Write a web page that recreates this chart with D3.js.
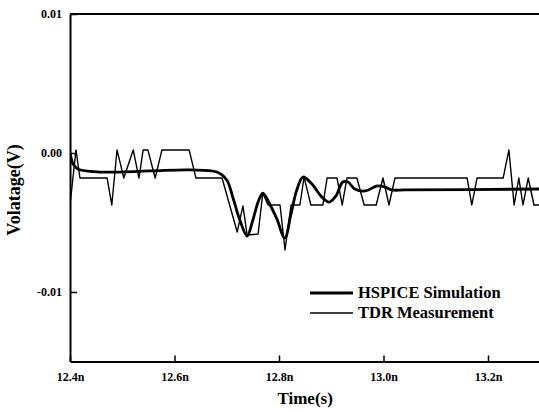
<!DOCTYPE html>
<html>
<head>
<meta charset="utf-8">
<script src="https://cdn.jsdelivr.net/npm/d3@7"></script>
<style>
  body { margin: 0; background: #fff; }
  svg { display: block; }
  text { font-family: "Liberation Serif", "Times New Roman", serif; font-weight: bold; fill: #000; }
</style>
</head>
<body>
<svg id="chart" width="539" height="412"></svg>
<script>
// time in ns, voltage in V
const hspiceTime = [12.400, 12.406, 12.415, 12.457, 12.553, 12.630, 12.681, 12.700, 12.712, 12.725,
  12.739, 12.750, 12.760, 12.769, 12.783, 12.796, 12.811, 12.823, 12.834, 12.846,
  12.863, 12.882, 12.896, 12.909, 12.922, 12.932, 12.945, 12.965, 12.988, 13.003,
  13.016, 13.041, 13.300];
const hspiceVolt = [0.0000, -0.00079, -0.00115, -0.00137, -0.00129, -0.00122, -0.00137, -0.00194, -0.00324, -0.00482,
  -0.00597, -0.00482, -0.00353, -0.00288, -0.00374, -0.00475, -0.00612, -0.00439, -0.00266, -0.00173,
  -0.00223, -0.00317, -0.00353, -0.00309, -0.00209, -0.00209, -0.00259, -0.00273, -0.00237, -0.00245,
  -0.00266, -0.00266, -0.00259];

const tdrTime = [12.400, 12.4115, 12.419, 12.471, 12.480, 12.490, 12.503, 12.521, 12.532, 12.540,
  12.549, 12.563, 12.576, 12.628, 12.641, 12.691, 12.720, 12.731, 12.739, 12.760,
  12.769, 12.779, 12.802, 12.8115, 12.823, 12.840, 12.848, 12.861, 12.884, 12.892,
  12.911, 12.921, 12.930, 12.949, 12.963, 12.986, 12.999, 13.0105, 13.022, 13.160,
  13.169, 13.179, 13.229, 13.240, 13.250, 13.259, 13.267, 13.277, 13.288, 13.300];
const tdrVolt = [-0.00374, 0.00022, -0.00180, -0.00180, -0.00374, 0.00022, -0.00180, 0.00022, -0.00180, 0.00022,
  0.00022, -0.00180, 0.00022, 0.00022, -0.00180, -0.00180, -0.00568, -0.00381, -0.00590, -0.00583,
  -0.00288, -0.00374, -0.00374, -0.00698, -0.00374, -0.00374, -0.00173, -0.00374, -0.00374, -0.00180,
  -0.00180, -0.00374, -0.00180, -0.00180, -0.00374, -0.00374, -0.00180, -0.00374, -0.00180, -0.00180,
  -0.00374, -0.00180, -0.00180, 0.00022, -0.00374, -0.00180, -0.00374, -0.00180, -0.00374, -0.00374];

const xTicks = [12.4, 12.6, 12.8, 13.0, 13.2];
const xTickLabels = ["12.4n", "12.6n", "12.8n", "13.0n", "13.2n"];
const yTicks = [0.01, 0.00, -0.01];
const yTickLabels = ["0.01", "0.00", "-0.01"];
const seriesNames = ["HSPICE Simulation", "TDR Measurement"];

const mLeft = 70, mTop = 14, mRight = 540.25, mBottom = 361.5;

const svg = d3.select("#chart");

const x = d3.scaleLinear().domain([12.4, 13.3]).range([mLeft, mRight]);
const y = d3.scaleLinear().domain([-0.015, 0.01]).range([mBottom, mTop]);

svg.append("clipPath").attr("id", "clip")
  .append("rect").attr("x", mLeft).attr("y", mTop).attr("width", mRight - mLeft).attr("height", mBottom - mTop);

const hspice = hspiceTime.map((t, i) => ({t: t, v: hspiceVolt[i]}));
const tdr = tdrTime.map((t, i) => ({t: t, v: tdrVolt[i]}));

const line = d3.line().x(d => x(d.t)).y(d => y(d.v));
const smooth = d3.line().x(d => x(d.t)).y(d => y(d.v)).curve(d3.curveCatmullRom.alpha(0.5));

const plot = svg.append("g").attr("clip-path", "url(#clip)");

plot.append("path")
  .datum(tdr)
  .attr("d", line)
  .attr("fill", "none")
  .attr("stroke", "#000")
  .attr("stroke-width", 1.4)
  .attr("stroke-linejoin", "round");

plot.append("path")
  .datum(hspice)
  .attr("d", smooth)
  .attr("fill", "none")
  .attr("stroke", "#000")
  .attr("stroke-width", 2.8)
  .attr("stroke-linejoin", "round");

// axes
const xAxis = d3.axisBottom(x)
  .tickValues(xTicks)
  .tickFormat((d, i) => xTickLabels[i])
  .tickSizeInner(-6)
  .tickSizeOuter(0)
  .tickPadding(11);

const yAxis = d3.axisLeft(y)
  .tickValues(yTicks)
  .tickFormat((d, i) => yTickLabels[i])
  .tickSizeInner(-7)
  .tickSizeOuter(0)
  .tickPadding(8);

const gx = svg.append("g")
  .attr("transform", "translate(0," + mBottom + ")")
  .call(xAxis);

const gy = svg.append("g")
  .attr("transform", "translate(" + mLeft + ",0)")
  .call(yAxis);

[gx, gy].forEach(g => {
  g.select(".domain").attr("stroke", "#000").attr("stroke-width", 2);
  g.selectAll(".tick line").attr("stroke", "#000").attr("stroke-width", 1.5);
  g.selectAll(".tick text")
    .style("font-family", "'Liberation Serif', serif")
    .style("font-weight", "bold")
    .style("font-size", "12px")
    .attr("fill", "#000");
});

// top frame line
svg.append("line")
  .attr("x1", mLeft).attr("x2", 539)
  .attr("y1", mTop).attr("y2", mTop)
  .attr("stroke", "#000").attr("stroke-width", 2);

// axis titles
svg.append("text")
  .attr("x", (mLeft + mRight) / 2)
  .attr("y", 404)
  .attr("text-anchor", "middle")
  .style("font-size", "17px")
  .text("Time(s)");

svg.append("text")
  .attr("transform", "translate(20,190) rotate(-90)")
  .attr("text-anchor", "middle")
  .style("font-size", "18px")
  .text("Volatage(V)");

// legend
const legend = svg.append("g");
const legendY = [293, 313];
const legendW = [2.8, 1.4];
seriesNames.forEach((name, i) => {
  legend.append("line")
    .attr("x1", 310).attr("x2", 353)
    .attr("y1", legendY[i]).attr("y2", legendY[i])
    .attr("stroke", "#000").attr("stroke-width", legendW[i]);
  legend.append("text")
    .attr("x", 358)
    .attr("y", legendY[i] + 5)
    .style("font-size", "16.5px")
    .text(name);
});
</script>
</body>
</html>
